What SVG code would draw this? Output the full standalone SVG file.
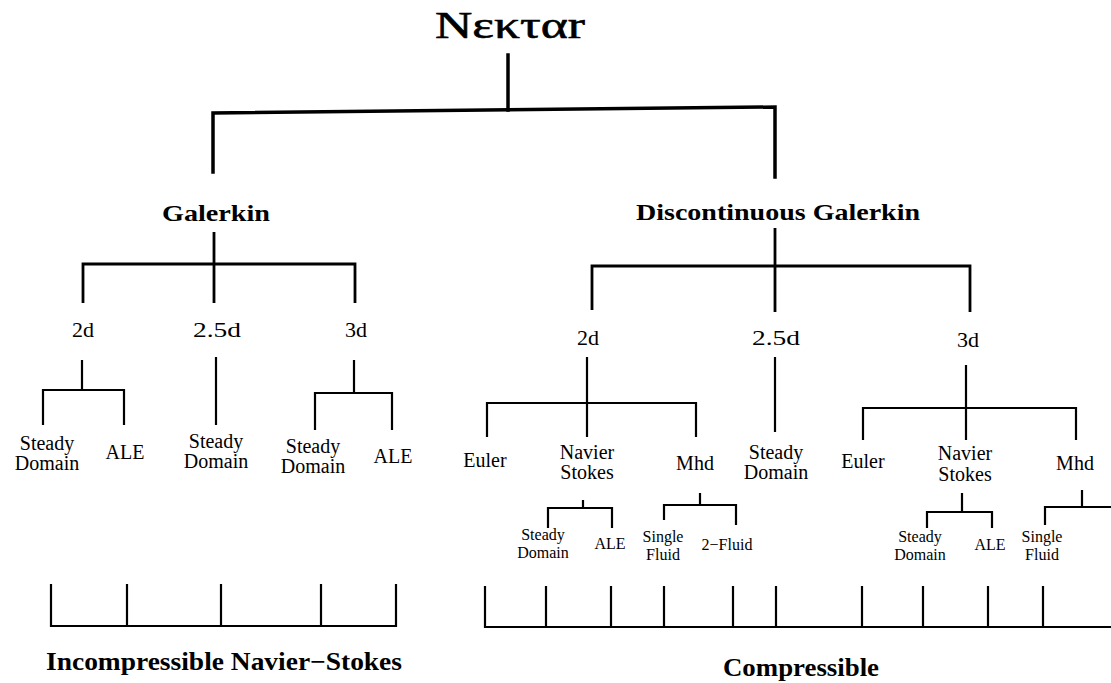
<svg xmlns="http://www.w3.org/2000/svg" width="1111" height="683" viewBox="0 0 1111 683">
<style>
text{font-family:"Liberation Serif","Times New Roman",serif;fill:#000;text-anchor:middle}
.title{font-size:38px;stroke:#000;stroke-width:0.6}
.h{font-size:24px;font-weight:bold}
.l2{font-size:22px}
.l3{font-size:20px}
.l4{font-size:16px}
.foot{font-size:25px;font-weight:bold}
.c1{fill:none;stroke:#000;stroke-width:3.5;stroke-linejoin:miter;stroke-linecap:square}
.c2{fill:none;stroke:#000;stroke-width:2.8}
.c3{fill:none;stroke:#000;stroke-width:2.2}
</style>
<rect width="1111" height="683" fill="#fff"/>
<g id="connectors">
  <path class="c1" d="M508,55 V110"/>
  <path class="c1" d="M213,172 V113 L775,107 V177"/>
  <path class="c2" d="M214,232 V263 M83,303 V264 H355 V303 M214,263 V303"/>
  <path class="c2" d="M775,228 V267 M592,310 V266 H970 V312 M775,267 V312"/>
  <path class="c3" d="M82,360 V390 M43,425 V390 H124 V425"/>
  <path class="c3" d="M216,357 V425"/>
  <path class="c3" d="M354,360 V393 M315,430 V393 H392 V430"/>
  <path class="c3" d="M587,357 V403 M487,437 V403 H696 V437 M587,403 V437"/>
  <path class="c3" d="M583,500 V508 M548,528 V508 H612 V528"/>
  <path class="c3" d="M700,493 V505 M664,520 V505 H736 V525"/>
  <path class="c3" d="M775,357 V432"/>
  <path class="c3" d="M966,365 V408 M863,440 V408 H1076 V440 M966,408 V440"/>
  <path class="c3" d="M962,493 V512 M927,528 V512 H992 V528"/>
  <path class="c3" d="M1082,490 V507 M1045,525 V507 H1111"/>
  <path class="c3" d="M51,584 V626 H396 V584 M127,584 V626 M221,584 V626 M321,584 V626"/>
  <path class="c3" d="M485,586 V627 H1111 M546,586 V627 M611,586 V627 M664,586 V627 M733,586 V627 M776,586 V627 M862,586 V627 M923,586 V627 M988,586 V627 M1043,586 V627"/>
</g>
<g id="nektar"><text class="title" x="510" y="38" textLength="150" lengthAdjust="spacingAndGlyphs">Nεκταr</text></g>
<g id="galerkin"><text class="h" x="216" y="221" textLength="108" lengthAdjust="spacingAndGlyphs">Galerkin</text></g>
<g id="dg"><text class="h" x="778" y="220" textLength="284" lengthAdjust="spacingAndGlyphs">Discontinuous Galerkin</text></g>
<g id="g-2d"><text class="l2" x="83" y="337">2d</text></g>
<g id="g-25d"><text class="l2" x="217" y="337" textLength="48" lengthAdjust="spacingAndGlyphs">2.5d</text></g>
<g id="g-3d"><text class="l2" x="356" y="337">3d</text></g>
<g id="dg-2d"><text class="l2" x="588" y="345">2d</text></g>
<g id="dg-25d"><text class="l2" x="776" y="345" textLength="48" lengthAdjust="spacingAndGlyphs">2.5d</text></g>
<g id="dg-3d"><text class="l2" x="968" y="347">3d</text></g>
<g id="g2-steady"><text class="l3" x="47" y="450">Steady</text><text class="l3" x="47" y="470">Domain</text></g>
<g id="g2-ale"><text class="l3" x="125" y="459">ALE</text></g>
<g id="g25-steady"><text class="l3" x="216" y="448">Steady</text><text class="l3" x="216" y="468">Domain</text></g>
<g id="g3-steady"><text class="l3" x="313" y="453">Steady</text><text class="l3" x="313" y="473">Domain</text></g>
<g id="g3-ale"><text class="l3" x="393" y="463">ALE</text></g>
<g id="d2-euler"><text class="l3" x="485" y="467">Euler</text></g>
<g id="d2-ns"><text class="l3" x="587" y="459">Navier</text><text class="l3" x="587" y="479">Stokes</text></g>
<g id="d2-mhd"><text class="l3" x="695" y="470">Mhd</text></g>
<g id="d2-ns-steady"><text class="l4" x="543" y="540">Steady</text><text class="l4" x="543" y="558">Domain</text></g>
<g id="d2-ns-ale"><text class="l4" x="610" y="549">ALE</text></g>
<g id="d2-mhd-single"><text class="l4" x="663" y="542">Single</text><text class="l4" x="663" y="560">Fluid</text></g>
<g id="d2-mhd-2fluid"><text class="l4" x="727" y="550">2−Fluid</text></g>
<g id="d25-steady"><text class="l3" x="776" y="459">Steady</text><text class="l3" x="776" y="479">Domain</text></g>
<g id="d3-euler"><text class="l3" x="863" y="468">Euler</text></g>
<g id="d3-ns"><text class="l3" x="965" y="460">Navier</text><text class="l3" x="965" y="481">Stokes</text></g>
<g id="d3-mhd"><text class="l3" x="1075" y="470">Mhd</text></g>
<g id="d3-ns-steady"><text class="l4" x="920" y="542">Steady</text><text class="l4" x="920" y="560">Domain</text></g>
<g id="d3-ns-ale"><text class="l4" x="990" y="550">ALE</text></g>
<g id="d3-mhd-single"><text class="l4" x="1042" y="542">Single</text><text class="l4" x="1042" y="560">Fluid</text></g>
<g id="incompressible"><text class="foot" x="224" y="670" textLength="356" lengthAdjust="spacingAndGlyphs">Incompressible Navier−Stokes</text></g>
<g id="compressible"><text class="foot" x="801" y="676" textLength="156" lengthAdjust="spacingAndGlyphs">Compressible</text></g>
</svg>
